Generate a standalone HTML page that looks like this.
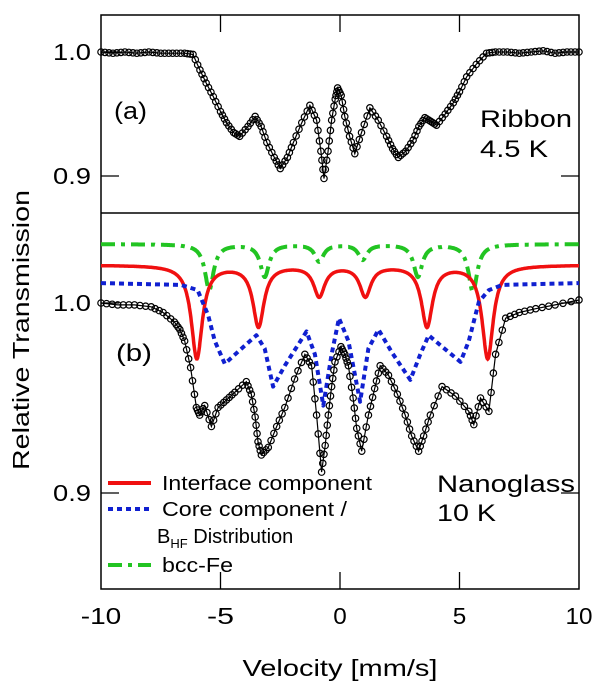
<!DOCTYPE html>
<html><head><meta charset="utf-8"><style>
body{margin:0;background:#fff;}
svg{display:block;font-family:"Liberation Sans",Arial,sans-serif;}
</style></head><body>
<svg id="chart" width="600" height="685" viewBox="0 0 600 685">
</svg>
<script>
// ---- data ----
const ribbonV=[-10,-9.5,-9,-8.5,-8,-7.5,-7,-6.5,-6.15,-5.86,-5.6,-5.3,-5.0,-4.75,-4.45,-4.2,-3.85,-3.55,-3.3,-3.06,-2.75,-2.5,-2.2,-1.95,-1.6,-1.26,-0.98,-0.8,-0.67,-0.5,-0.35,-0.2,-0.1,0.05,0.2,0.4,0.62,0.9,1.25,1.6,1.95,2.2,2.44,2.75,3.06,3.3,3.55,3.8,4.04,4.4,4.74,5.0,5.3,5.7,6.13,6.5,7,7.5,8,8.5,9,9.5,10];
const ribbonT=[1.0,0.999,1.0,0.999,1.0,0.999,0.999,0.999,0.998,0.9855,0.975,0.964,0.952,0.943,0.935,0.932,0.94,0.948,0.94,0.927,0.915,0.906,0.915,0.927,0.943,0.957,0.945,0.92,0.898,0.92,0.945,0.962,0.971,0.965,0.948,0.932,0.918,0.935,0.955,0.945,0.932,0.922,0.915,0.92,0.929,0.94,0.947,0.944,0.941,0.95,0.959,0.968,0.98,0.99,0.999,1.0,1.0,0.999,1.0,1.001,0.999,1.0,1.0];
const glassV=[-10,-9.3,-8.6,-7.9,-7.4,-6.93,-6.7,-6.5,-6.25,-6.01,-5.87,-5.66,-5.38,-5.1,-4.75,-4.4,-3.92,-3.71,-3.55,-3.43,-3.29,-3.0,-2.65,-2.31,-1.9,-1.47,-1.19,-0.98,-0.77,-0.62,-0.49,-0.35,-0.21,0.04,0.2,0.35,0.55,0.7,0.91,1.19,1.45,1.68,2.03,2.4,2.73,3.0,3.29,3.5,3.78,4.27,4.83,5.39,5.6,5.88,6.23,6.51,6.93,7.5,8.19,9.0,10];
const glassT=[1.0,0.999,0.999,0.998,0.995,0.99,0.986,0.98,0.966,0.945,0.941,0.946,0.935,0.945,0.949,0.953,0.9586,0.952,0.94,0.927,0.92,0.924,0.935,0.945,0.96,0.973,0.967,0.941,0.911,0.925,0.941,0.956,0.969,0.977,0.973,0.967,0.95,0.934,0.922,0.941,0.955,0.967,0.962,0.952,0.941,0.93,0.922,0.93,0.941,0.956,0.951,0.943,0.936,0.95,0.943,0.973,0.992,0.995,0.997,0.999,1.0016];
// interface component (sextet): baseline, line positions, depths, half width
const ifaceBase=1.020;
const ifacePos=[-5.99,-3.41,-0.87,1.06,3.64,6.18];
const ifaceDepth=[0.049,0.032,0.016,0.016,0.032,0.049];
const ifaceHW=0.28;
// bcc-Fe sextet
const bccBase=1.031;
const bccPos=[-5.47,-3.15,-0.87,0.95,3.26,5.56];
const bccDepth=[0.024,0.017,0.009,0.008,0.017,0.025];
const bccHW=0.22;
// core component sampled curve
const coreV=[-10,-6.65,-5.96,-5.52,-5.24,-4.82,-4.12,-3.5,-3.15,-2.8,-2.31,-1.4,-1.05,-0.7,-0.35,-0.04,0.35,0.84,1.19,1.61,2.17,2.94,3.36,3.71,4.27,5.04,5.39,5.81,6.23,6.79,10];
const coreT=[1.0105,1.0095,1.0068,0.9937,0.980,0.968,0.976,0.983,0.976,0.956,0.967,0.985,0.973,0.946,0.973,0.992,0.980,0.948,0.976,0.986,0.974,0.9595,0.973,0.983,0.977,0.969,0.980,1.0007,1.0068,1.0095,1.0105];
const xTicks=[-10,-5,0,5,10];

// ---- axes ----
const L=101,R=579;
const X=v=>L+(v+10)*(R-L)/20;
const Ya=t=>52+(1.0-t)*1240;   // top panel
const Yb=t=>303+(1.0-t)*1900;  // bottom panel
const svg=document.getElementById('chart');
const NS='http://www.w3.org/2000/svg';
function mk(tag,attrs,parent){const e=document.createElementNS(NS,tag);for(const k in attrs)e.setAttribute(k,attrs[k]);(parent||svg).appendChild(e);return e;}
function lor(v,base,pos,dep,hw){let s=base;for(let i=0;i<pos.length;i++){s-=dep[i]/(1+((v-pos[i])/hw)**2);}return s;}

let e=mk('rect',{x:L,y:15,width:R-L,height:589-15,fill:'none',stroke:'#000','stroke-width':1.5});

e=mk('line',{x1:L,x2:R,y1:213,y2:213,stroke:'#000','stroke-width':1.5});

for(const v of [-5,0,5]){
  e=mk('line',{x1:X(v),x2:X(v),y1:15,y2:32,stroke:'#000','stroke-width':1.3});
  
  e=mk('line',{x1:X(v),x2:X(v),y1:589,y2:572,stroke:'#000','stroke-width':1.3});
  
}
for(const y of [Ya(0.9),Ya(1.0),Yb(0.9),Yb(1.0)]){
  e=mk('line',{x1:L,x2:L+18,y1:y,y2:y,stroke:'#000','stroke-width':1.3});
  
  e=mk('line',{x1:R,x2:R-18,y1:y,y2:y,stroke:'#000','stroke-width':1.3});
  
}
function txt(s,x,y,size,anchor,name,len){const a={x:x,y:y,'font-size':size,'text-anchor':anchor||'start',fill:'#000'};if(len){a.textLength=len;a.lengthAdjust='spacingAndGlyphs';}const t=mk('text',a);t.textContent=s;return t;}
for(const v of xTicks){txt(String(v),X(v),624,23,'middle','x-tick-label',String(v).length*13.5);}
txt('1.0',91,Ya(1.0)+8,23,'end','y-tick-label-top-1.0',38);
txt('0.9',91,Ya(0.9)+8,23,'end','y-tick-label-top-0.9',38);
txt('1.0',91,Yb(1.0)+8,23,'end','y-tick-label-bottom-1.0',38);
txt('0.9',91,Yb(0.9)+8,23,'end','y-tick-label-bottom-0.9',38);
txt('Velocity [mm/s]',X(0),676,23,'middle','x-axis-title',195);
e=txt('Relative Transmission',0,0,23,'middle','y-axis-title',280);
e.setAttribute('transform','translate(29,330) rotate(-90)');
txt('(a)',114,119,24,'start','panel-a-label',33);
txt('Ribbon',480,127,24,'start','ribbon-label',92);
txt('4.5 K',480,157,24,'start','ribbon-temp-label',68);
txt('(b)',116,361,24,'start','panel-b-label',36);
txt('Nanoglass',437,492,24,'start','nanoglass-label',138);
txt('10 K',437,521,24,'start','nanoglass-temp-label',59);

function poly(pts,attrs,name){const p=mk('polyline',Object.assign({points:pts.map(q=>q[0].toFixed(1)+','+q[1].toFixed(1)).join(' '),fill:'none'},attrs));return p;}
function sampled(fn,Y){const pts=[];for(let v=-10;v<=10.001;v+=0.02)pts.push([X(v),Y(fn(v))]);return pts;}

poly(sampled(v=>lor(v,bccBase,bccPos,bccDepth,bccHW),Yb),{stroke:'#22c422','stroke-width':4,'stroke-dasharray':'14,6,4,6'},'bcc-fe-curve');
poly(sampled(v=>lor(v,ifaceBase,ifacePos,ifaceDepth,ifaceHW),Yb),{stroke:'#f01010','stroke-width':3.5},'interface-component-curve');
poly(coreV.map((v,i)=>[X(v),Yb(coreT[i])]),{stroke:'#1020d0','stroke-width':4,'stroke-dasharray':'5,4','stroke-linejoin':'round'},'core-component-curve');

function dataSeries(V,T,Y,name){
  poly(V.map((v,i)=>[X(v),Y(T[i])]),{stroke:'#000','stroke-width':1.2},name+'-fit-line');
  const g=mk('g',{});
  for(let i=0;i<V.length;i++){
    const c=mk('circle',{cx:X(V[i]),cy:Y(T[i]),r:3.2,fill:'none',stroke:'#000','stroke-width':1.2},g);
    
    
    if(i<V.length-1){
      for(const f of [0.33,0.67]){
        const c2=mk('circle',{cx:X(V[i])+(X(V[i+1])-X(V[i]))*f,cy:Y(T[i])+(Y(T[i+1])-Y(T[i]))*f,r:3.2,fill:'none',stroke:'#000','stroke-width':1.2},g);
        
        
      }
    }
  }
}
dataSeries(ribbonV,ribbonT,Ya,'ribbon-data');
dataSeries(glassV,glassT,Yb,'nanoglass-data');

const lg=mk('g',{});
e=mk('line',{x1:108,x2:151,y1:483,y2:483,stroke:'#f01010','stroke-width':4},lg);

e=mk('line',{x1:108,x2:151,y1:509,y2:509,stroke:'#1020d0','stroke-width':4,'stroke-dasharray':'5,4'},lg);

e=mk('line',{x1:108,x2:151,y1:565,y2:565,stroke:'#22c422','stroke-width':4,'stroke-dasharray':'14,6,4,6'},lg);

txt('Interface component',162,490,20,'start','legend-interface-text',210);
txt('Core component /',162,516,20,'start','legend-core-text',185);
e=txt('',157,543,20,'start','legend-bhf-text');
e.innerHTML='B<tspan font-size="13" dy="5">HF</tspan><tspan dy="-5"> Distribution</tspan>';
txt('bcc-Fe',162,572,20,'start','legend-bcc-text',71);
</script>
</body></html>
